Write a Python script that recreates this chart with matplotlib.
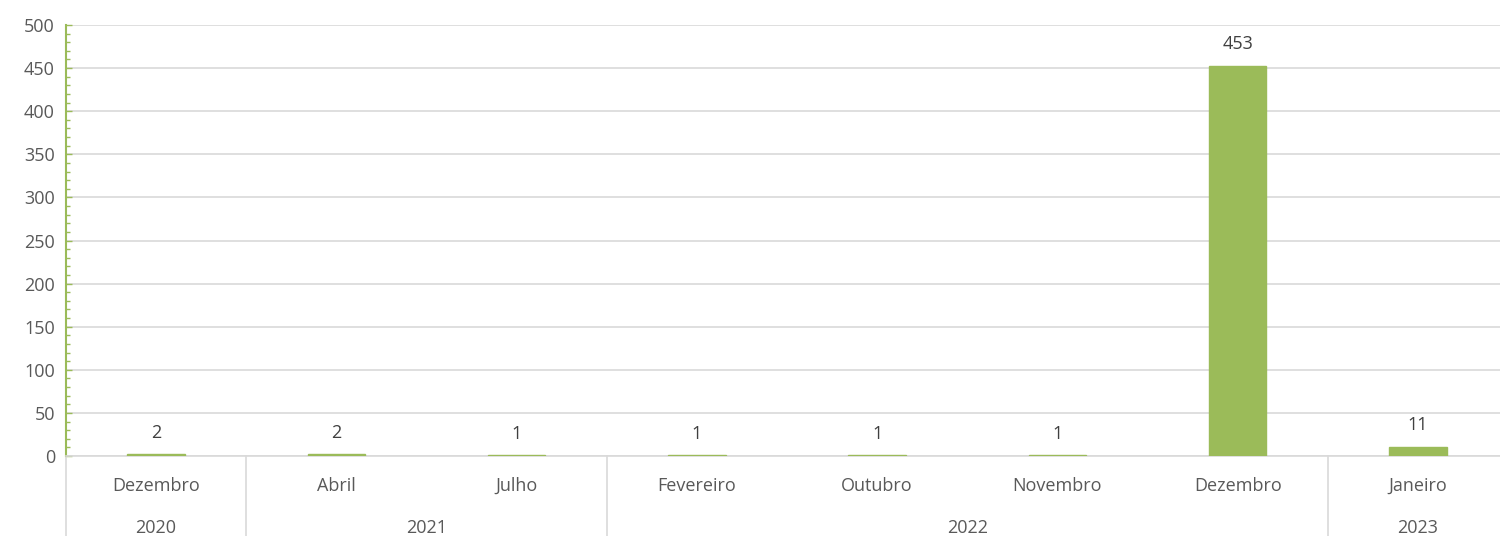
import numpy as np
import matplotlib.pyplot as plt
from matplotlib.ticker import MultipleLocator

months = ["Dezembro", "Abril", "Julho", "Fevereiro", "Outubro", "Novembro", "Dezembro", "Janeiro"]
years = ["2020", "2021", "2022", "2023"]
months_per_year = [1, 2, 4, 1]
values = [2, 2, 1, 1, 1, 1, 453, 11]

bar_color = "#9BBB59"
text_color = "#595959"
grid_color = "#D9D9D9"


def main():
    plt.rcParams['font.family'] = ['Open Sans', 'DejaVu Sans']
    fig = plt.figure(figsize=(15, 5.36), dpi=100)
    ax = fig.add_axes([66 / 1500, 80 / 536, (1508 - 66) / 1500, (456 - 25) / 536])

    x = np.arange(len(values))
    ax.bar(x, values, width=0.32, color=bar_color, edgecolor=bar_color,
           linewidth=1.0, zorder=3)
    for xi, v in zip(x, values):
        ax.annotate(str(v), (xi, v), xytext=(0, 9), textcoords="offset points",
                    ha="center", va="bottom", fontsize=13, color="#404040")

    ax.set_xlim(-0.5, len(values) - 0.5)
    ax.set_ylim(0, 500)
    ax.yaxis.set_major_locator(MultipleLocator(50))
    ax.yaxis.set_minor_locator(MultipleLocator(10))
    ax.grid(axis="y", color=grid_color, linewidth=1.2, zorder=0)
    ax.tick_params(axis="y", which="both", direction="in", color=bar_color,
                   labelcolor=text_color, labelsize=13, pad=8)
    ax.tick_params(axis="y", which="major", length=4, width=1)
    ax.tick_params(axis="y", which="minor", length=3, width=1)
    ax.set_xticks([])

    for s in ["top", "right"]:
        ax.spines[s].set_visible(False)
    ax.spines["left"].set_color(bar_color)
    ax.spines["left"].set_linewidth(1.5)
    ax.spines["bottom"].set_color(grid_color)
    ax.spines["bottom"].set_linewidth(1.2)

    trans = ax.get_xaxis_transform()
    for xi, m in zip(x, months):
        ax.text(xi, -0.07, m, transform=trans, ha="center", va="center",
                fontsize=13, color=text_color)

    start = 0
    bounds = [-0.5]
    for y, n in zip(years, months_per_year):
        center = start + (n - 1) / 2
        ax.text(center, -0.167, y, transform=trans, ha="center", va="center",
                fontsize=13, color=text_color)
        start += n
        bounds.append(start - 0.5)
    for b in bounds[:-1]:
        ax.plot([b, b], [0, -0.19], transform=trans, color=grid_color,
                linewidth=1.2, clip_on=False)

    fig.savefig("out.png", dpi=100)


if __name__ == '__main__':
    main()
